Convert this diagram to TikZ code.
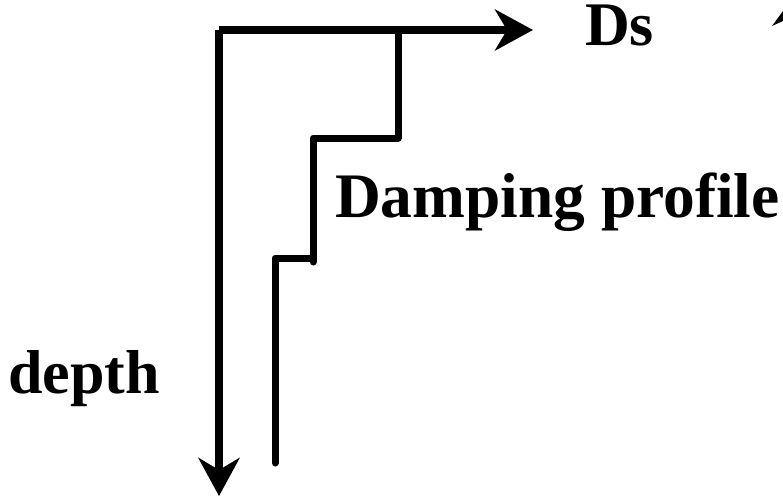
\documentclass[tikz,border=0pt]{standalone}
\usepackage{fontspec}
\setmainfont{Liberation Serif}
\usetikzlibrary{arrows.meta,positioning}

\begin{document}
\begin{tikzpicture}[x=1pt,y=-1pt,>={Stealth[length=38pt,width=41pt,inset=12pt]},
        lbl/.style={inner sep=0pt,anchor=base west,font=\bfseries\fontsize{62}{72}\selectfont}]
                \useasboundingbox (0,0) rectangle (783,498);
                \coordinate (o) at (219,30);
                \coordinate (xend) at (533,30);
                \coordinate (yend) at (219,496);
                \coordinate (s0) at (398,30);
                \coordinate (s1) at (313,138);
                \coordinate (s2) at (313,262);
                \coordinate (s3) at (275,258);
                \coordinate (s4) at (277,463);

                \node[lbl,text height=41pt] at (585,45) (ds) {Ds};
                \node[lbl,font=\bfseries\fontsize{63.4}{72}\selectfont] at (335,217) (damp) {Damping profile};
                \node[lbl] at (8,393) (depth) {depth};

                \draw[line width=7.5pt,->] (o)--(xend);
                \draw[line width=7.5pt,->] (o)--(yend);
                \draw[line width=7pt,line cap=round,line join=round] (s0) |- (s1) -- (s2);
                \draw[line width=7pt,line cap=round,line join=round] (s2 |- s3) -- (s3) -- (s3 |- s4);
                \fill (772,26) -- (783,11) -- (783,21) -- cycle;
            \end{tikzpicture}
\end{document}
